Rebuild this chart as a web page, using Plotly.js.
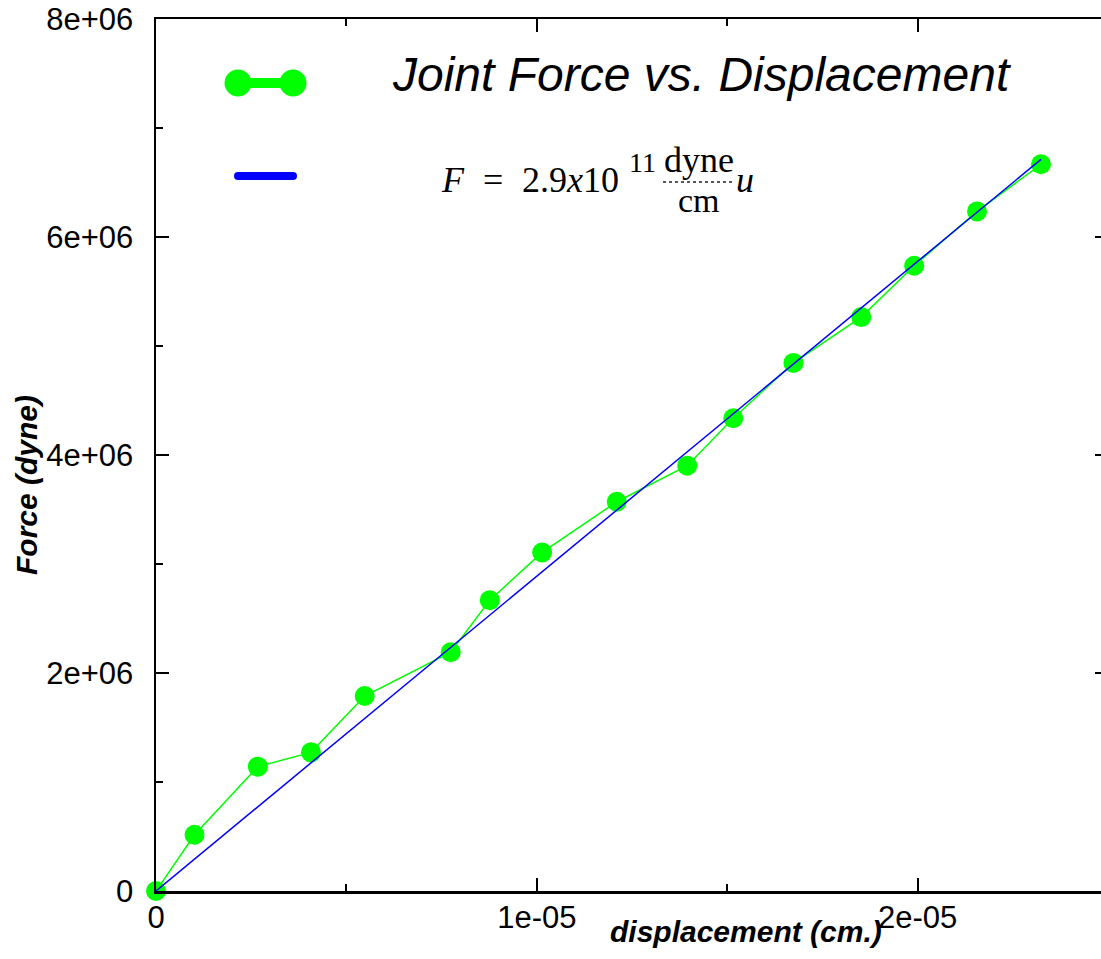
<!DOCTYPE html>
<html>
<head>
<meta charset="utf-8">
<script src="https://cdn.plot.ly/plotly-3.0.1.min.js"></script>
<style>
html, body { margin: 0; padding: 0; overflow: hidden; background: #ffffff; }
#chart { width: 1110px; height: 959px; }
</style>
</head>
<body>
<div id="chart"></div>
<script>
// ---- data ----
const displacement = [0, 1.012e-6, 2.675e-6, 4.07e-6, 5.48e-6, 7.74e-6, 8.765e-6, 1.014e-5, 1.210e-5, 1.395e-5, 1.516e-5, 1.674e-5, 1.852e-5, 1.991e-5, 2.156e-5, 2.324e-5];
const force = [0, 5.16e5, 1.141e6, 1.272e6, 1.789e6, 2.191e6, 2.668e6, 3.106e6, 3.571e6, 3.902e6, 4.337e6, 4.845e6, 5.265e6, 5.736e6, 6.235e6, 6.667e6];
const fitDisplacement = [0, 2.324e-5];
const fitForce = [0, 6.712e6];
const xTickVals = [0, 1e-5, 2e-5];
const xTickText = ['0', '1e-05', '2e-05'];
const yTickVals = [0, 2e6, 4e6, 6e6, 8e6];
const yTickText = ['0', '2e+06', '4e+06', '6e+06', '8e+06'];
const seriesName = 'Joint Force vs. Displacement';
const fitName = 'F = 2.9x10^11 dyne/cm u';

// ---- layout geometry ----
const W = 1110, H = 959;
const M = { l: 156, r: 2, t: 19, b: 68 };
const PW = W - M.l - M.r, PH = H - M.t - M.b;
const px = v => (v - M.l) / PW;          // pixel x -> paper x
const py = v => (M.t + PH - v) / PH;     // pixel y -> paper y

const GREEN = '#00ff00';
const BLUE = '#0000ff';
const SANS = 'Liberation Sans, Arial, Helvetica, sans-serif';
const SERIF = 'Liberation Serif, Times New Roman, serif';

const traces = [
  {
    x: displacement, y: force, name: seriesName,
    type: 'scatter', mode: 'lines+markers',
    line: { color: GREEN, width: 1.5 },
    marker: { color: GREEN, size: 20 },
    cliponaxis: false, showlegend: false, hoverinfo: 'x+y'
  },
  {
    x: fitDisplacement, y: fitForce, name: fitName,
    type: 'scatter', mode: 'lines',
    line: { color: BLUE, width: 1.5 },
    showlegend: false, hoverinfo: 'x+y'
  }
];

const axisCommon = {
  showgrid: false, zeroline: false,
  showline: true, linecolor: '#000', linewidth: 2.5,
  mirror: 'ticks', ticks: 'inside', ticklen: 13, tickwidth: 2, tickcolor: '#000',
  tickfont: { family: SANS, size: 31, color: '#000' },
  tickmode: 'array'
};

function ann(text, x, y, family, size, extra) {
  return Object.assign({
    text: text, xref: 'paper', yref: 'paper', x: px(x), y: py(y),
    xanchor: 'center', yanchor: 'middle', showarrow: false,
    font: { family: family, size: size, color: '#000' }
  }, extra || {});
}

const layout = {
  width: W, height: H,
  margin: M,
  paper_bgcolor: '#fff', plot_bgcolor: '#fff',
  showlegend: false,
  xaxis: Object.assign({}, axisCommon, {
    range: [0, 2.5e-5], tickvals: xTickVals, ticktext: xTickText,
    ticklabelstandoff: -3,
    minor: { dtick: 5e-6, tick0: 0, ticks: 'inside', ticklen: 7, tickwidth: 2, tickcolor: '#000', showgrid: false }
  }),
  yaxis: Object.assign({}, axisCommon, {
    range: [0, 8e6], tickvals: yTickVals, ticktext: yTickText,
    ticklabelstandoff: 14,
    minor: { dtick: 1e6, tick0: 0, ticks: 'inside', ticklen: 7, tickwidth: 2, tickcolor: '#000', showgrid: false }
  }),
  shapes: [
    // legend symbol: green line with two dots
    { type: 'line', xref: 'paper', yref: 'paper', x0: px(238), x1: px(293), y0: py(83), y1: py(83),
      line: { color: GREEN, width: 10 } },
    { type: 'circle', xref: 'paper', yref: 'paper', xsizemode: 'pixel', ysizemode: 'pixel',
      xanchor: px(238), yanchor: py(83), x0: -13.5, x1: 13.5, y0: -13.5, y1: 13.5,
      fillcolor: GREEN, line: { width: 0 } },
    { type: 'circle', xref: 'paper', yref: 'paper', xsizemode: 'pixel', ysizemode: 'pixel',
      xanchor: px(293), yanchor: py(83), x0: -13.5, x1: 13.5, y0: -13.5, y1: 13.5,
      fillcolor: GREEN, line: { width: 0 } },
    // legend symbol: blue line
    { type: 'line', xref: 'paper', yref: 'paper', x0: px(238), x1: px(293), y0: py(176), y1: py(176),
      line: { color: BLUE, width: 8 } },
    { type: 'circle', xref: 'paper', yref: 'paper', xsizemode: 'pixel', ysizemode: 'pixel',
      xanchor: px(238), yanchor: py(176), x0: -4, x1: 4, y0: -4, y1: 4,
      fillcolor: BLUE, line: { width: 0 } },
    { type: 'circle', xref: 'paper', yref: 'paper', xsizemode: 'pixel', ysizemode: 'pixel',
      xanchor: px(293), yanchor: py(176), x0: -4, x1: 4, y0: -4, y1: 4,
      fillcolor: BLUE, line: { width: 0 } },
    // fraction bar
    { type: 'line', xref: 'paper', yref: 'paper', x0: px(663), x1: px(733), y0: py(182), y1: py(182),
      line: { color: '#222', width: 1.5, dash: 'dot' } }
  ],
  annotations: [
    // axis titles
    ann('<b><i>displacement (cm.)</i></b>', 746, 931, SANS, 30),
    ann('<b><i>Force (dyne)</i></b>', 26, 485, SANS, 30, { textangle: -90 }),
    // legend labels
    ann('<i>' + seriesName + '</i>', 390, 75, SANS, 48, { xanchor: 'left' }),
    ann('<i>F</i>', 452.5, 180, SERIF, 36),
    ann('=', 492.5, 180, SERIF, 36),
    ann('2.9<i>x</i>10', 570, 180, SERIF, 36),
    ann('11', 642, 162, SERIF, 28),
    ann('dyne', 699, 160, SERIF, 36),
    ann('cm', 699, 200.5, SERIF, 34),
    ann('<i>u</i>', 745, 180, SERIF, 36)
  ]
};

Plotly.newPlot('chart', traces, layout, { displayModeBar: false, staticPlot: true });
</script>
</body>
</html>
